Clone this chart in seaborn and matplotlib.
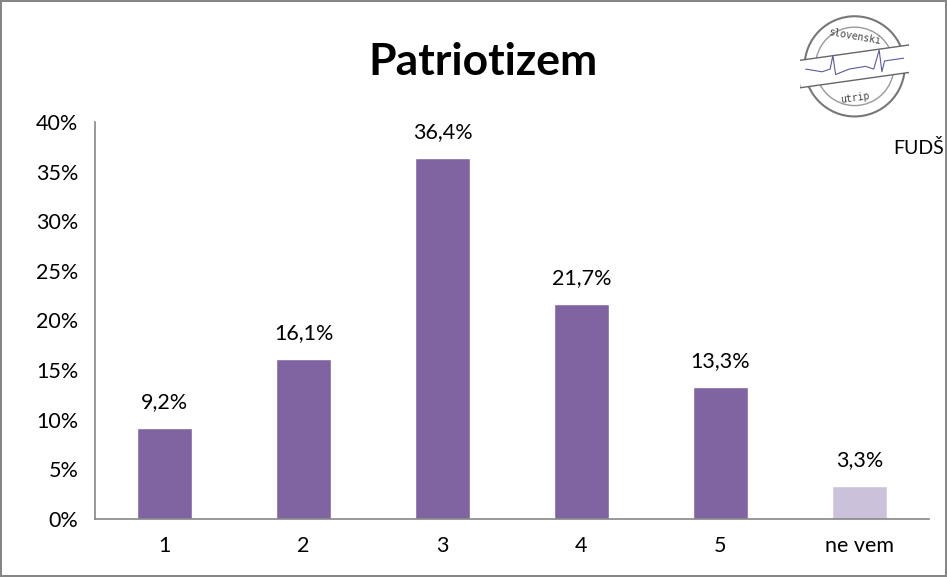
import numpy as np
import matplotlib.pyplot as plt
import seaborn as sns
from matplotlib.patches import Circle, Rectangle

categories = ["1", "2", "3", "4", "5", "ne vem"]
values = [9.2, 16.1, 36.4, 21.7, 13.3, 3.3]
bar_colors = ["#8064A2"] * 5 + ["#CCC1DA"]
y_ticks = [0, 5, 10, 15, 20, 25, 30, 35, 40]

sns.set_style("white")
plt.rcParams["font.family"] = ["Lato", "DejaVu Sans"]
plt.rcParams["text.color"] = "black"
plt.rcParams["xtick.labelcolor"] = "black"
plt.rcParams["ytick.labelcolor"] = "black"

fig = plt.figure(figsize=(9.47, 5.77), dpi=100)
fig.patch.set_edgecolor("#868686")
fig.patch.set_linewidth(1.5)
ax = fig.add_axes([0.1003, 0.1005, 0.8807, 0.6881])

sns.barplot(x=categories, y=values, hue=categories, palette=bar_colors,
            width=0.4, legend=False, saturation=1, ax=ax)

# data labels, Slovenian decimal comma
for i, v in enumerate(values):
    ax.text(i, v + 2.6, f"{v:.1f}%".replace(".", ","), ha="center",
            va="center", fontsize=15.5)

ax.set_xlim(-0.5, len(categories) - 0.5)
ax.set_ylim(0, 40)
ax.set_yticks(y_ticks)
ax.set_yticklabels([f"{t}%" for t in y_ticks], fontsize=15.5)
ax.set_xticks(range(len(categories)))
ax.set_xticklabels(categories, fontsize=15.5)
ax.set_xticks(np.arange(-0.5, len(categories), 1), minor=True)
ax.tick_params(axis="x", which="major", length=0, pad=12)
ax.tick_params(axis="x", which="minor", length=6, color="#868686",
               direction="out")
ax.tick_params(axis="y", length=6, color="#868686", direction="out", pad=6)
ax.set_xlabel("")
ax.set_ylabel("")
for side in ["top", "right"]:
    ax.spines[side].set_visible(False)
for side in ["left", "bottom"]:
    ax.spines[side].set_color("#868686")
    ax.spines[side].set_linewidth(1.2)

fig.text(0.51, 0.893, "Patriotizem", ha="center", va="center",
         fontsize=32, fontweight="bold")

# logo "slovenski utrip" + FUDŠ
lax = fig.add_axes([0.845, 0.79, 0.115, 0.19])
lax.set_xlim(-1, 1)
lax.set_ylim(-1, 1)
lax.set_aspect("equal")
lax.axis("off")
lax.add_patch(Circle((0, 0), 0.92, fill=False, ec="#777777", lw=1.5))
lax.add_patch(Circle((0, 0), 0.72, fill=False, ec="#999999", lw=1))
lax.add_patch(Rectangle((-1.05, -0.25), 2.1, 0.5, angle=8,
                        rotation_point="center", fc="white",
                        ec="#666666", lw=1))
lax.text(0, 0.55, "slovenski", ha="center", va="center", fontsize=7,
         family="DejaVu Sans Mono", rotation=-10, color="#444444")
lax.text(0, -0.58, "utrip", ha="center", va="center", fontsize=7,
         family="DejaVu Sans Mono", rotation=8, color="#444444")
wave_x = [-0.9, -0.6, -0.45, -0.4, -0.35, -0.1, 0.2, 0.35, 0.45, 0.5, 0.55, 0.9]
wave_y = [-0.05, -0.1, -0.05, 0.2, -0.15, -0.05, 0.0, -0.05, 0.3, -0.1, 0.1, 0.15]
lax.plot(wave_x, wave_y, color="#5B5BA0", lw=0.8)

fig.text(0.997, 0.743, "FUDŠ", ha="right", va="center", fontsize=14)

fig.savefig("out.png", dpi=100)
